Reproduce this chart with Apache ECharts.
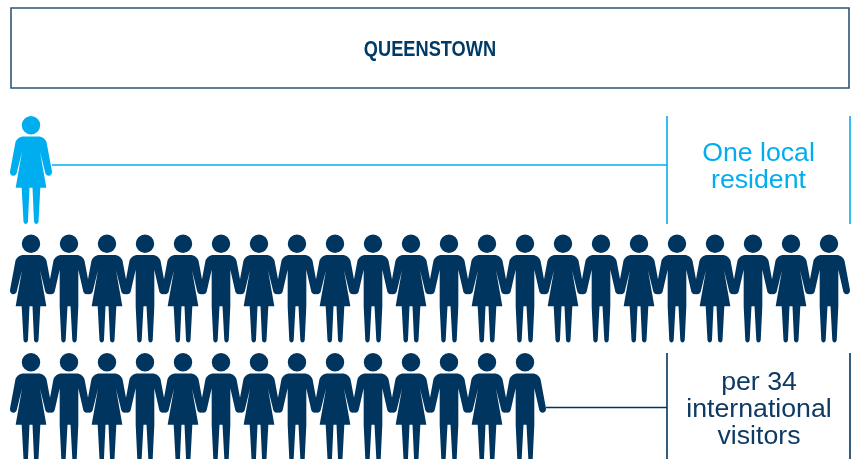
<!DOCTYPE html>
<html><head><meta charset="utf-8">
<style>html,body{margin:0;padding:0;background:#fff}#c{width:851px;height:459px}</style>
<script src="https://cdn.jsdelivr.net/npm/echarts@6/dist/echarts.min.js"></script>
</head><body><div id="c"></div>
<script>
const titleText = 'QUEENSTOWN';
const residentCount = [1];
const visitorRowCounts = [22, 14];
const residentLabel = 'One local\nresident';
const visitorLabel = 'per 34\ninternational\nvisitors';
const cyan = '#00aeef', navy = '#00355f';

const head = 'M11.8 9a9.2 9.2 0 1 0 18.4 0a9.2 9.2 0 1 0 -18.4 0Z';
const woman = 'path://' + head +
 'M14 20.4L28 20.4C32.5 20.4 35.6 23 36.6 26.5L41.8 54.5C42.5 58 40.5 59.5 38.6 59.5C37 59.5 35.8 58.5 35.3 57L30 35.5L36.3 71.7L30.3 71.7L28.5 105.5C28.3 108.7 24.3 108.7 24 105.5L22.5 71.7L19.5 71.7L18 105.5C17.7 108.7 13.7 108.7 13.5 105.5L11.7 71.7L5.7 71.7L12 35.5L6.7 57C6.2 58.5 5 59.5 3.4 59.5C1.5 59.5 -0.5 58 0.2 54.5L5.4 26.5C6.4 23 9.5 20.4 14 20.4Z';
const man = 'path://' + head +
 'M14 20.4L28 20.4C32.5 20.4 35.6 23 36.6 26.5L41.8 54.5C42.5 58 40.5 59.5 38.6 59.5C37 59.5 35.8 58.5 35.3 57L30.3 35L30.3 71.7L28.7 105.5C28.4 108.7 24.6 108.7 24.3 105.5L22.5 71.7L19.5 71.7L17.7 105.5C17.4 108.7 13.6 108.7 13.3 105.5L11.7 71.7L11.7 35L6.7 57C6.2 58.5 5 59.5 3.4 59.5C1.5 59.5 -0.5 58 0.2 54.5L5.4 26.5C6.4 23 9.5 20.4 14 20.4Z';

const residentPts = [];
for (let i = 0; i < residentCount[0]; i++) residentPts.push([i, 0]);
const womenPts = [], menPts = [];
visitorRowCounts.forEach((n, r) => {
  for (let i = 0; i < n; i++) (i % 2 ? menPts : womenPts).push([i, r + 1]);
});

function scatter(name, data, symbol, color) {
  return { name, type: 'scatter', data, symbol, symbolSize: [42, 108], clip: false,
           silent: true, itemStyle: { color, opacity: 1 } };
}
function line(x1, y1, x2, y2, stroke) {
  return { type: 'line', shape: { x1, y1, x2, y2 }, style: { stroke, lineWidth: 1.6 }, silent: true };
}
function text(x, y, t, fill, font, lineHeight, scaleX) {
  return { type: 'text', x, y, scaleX: scaleX || 1, silent: true,
    style: { text: t, fill, font, lineHeight, align: 'center', verticalAlign: 'middle' } };
}

const chart = echarts.init(document.getElementById('c'), null, { renderer: 'canvas' });
chart.setOption({
  animation: false,
  backgroundColor: '#ffffff',
  grid: { left: 31, right: 22, top: 170, bottom: 52 },
  xAxis: { type: 'value', min: 0, max: 21, show: false },
  yAxis: { type: 'value', min: 0, max: 2, inverse: true, show: false },
  series: [
    scatter('Local resident', residentPts, woman, cyan),
    scatter('Visitors women', womenPts, woman, navy),
    scatter('Visitors men', menPts, man, navy)
  ],
  graphic: [
    { type: 'rect', shape: { x: 11, y: 8, width: 838, height: 80 }, silent: true,
      style: { fill: 'none', stroke: '#2f5577', lineWidth: 1.6 } },
    text(430, 49.5, titleText, '#003a66', 'bold 22.5px "Liberation Sans"', 24, 0.81),
    line(52, 165, 667, 165, cyan),
    line(667, 116, 667, 224, cyan),
    line(850, 116, 850, 224, cyan),
    text(758.5, 167.5, residentLabel, cyan, '26.7px "Liberation Sans"', 27),
    line(546, 407.5, 667, 407.5, navy),
    line(667, 353, 667, 459, navy),
    line(850, 353, 850, 459, navy),
    text(759, 409.5, visitorLabel, '#0f3a63', '26.7px "Liberation Sans"', 27)
  ]
});
</script></body></html>
